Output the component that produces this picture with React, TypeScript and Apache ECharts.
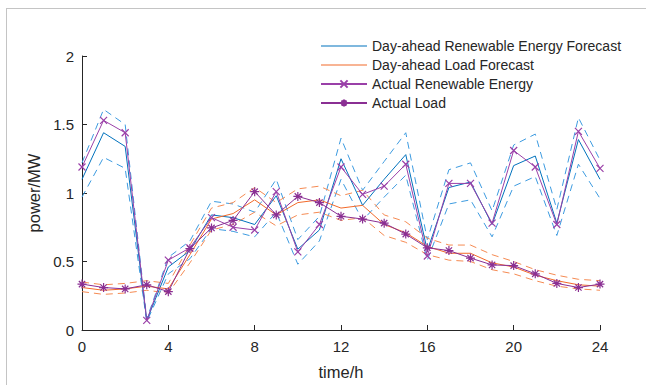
import React, { useEffect, useRef } from "react";
import * as echarts from "echarts";

const hours = [0, 1, 2, 3, 4, 5, 6, 7, 8, 9, 10, 11, 12, 13, 14, 15, 16, 17, 18, 19, 20, 21, 22, 23, 24];

const reForecast = [1.10, 1.44, 1.34, 0.07, 0.46, 0.58, 0.84, 0.82, 0.77, 0.98, 0.59, 0.73, 1.25, 0.91, 1.10, 1.28, 0.58, 1.04, 1.08, 0.77, 1.20, 1.27, 0.78, 1.39, 1.10];
const reUpper = [1.22, 1.61, 1.50, 0.08, 0.53, 0.65, 0.94, 0.92, 0.86, 1.10, 0.66, 0.83, 1.40, 1.02, 1.23, 1.44, 0.66, 1.17, 1.22, 0.87, 1.35, 1.43, 0.88, 1.55, 1.24];
const reLower = [0.97, 1.26, 1.18, 0.06, 0.41, 0.52, 0.74, 0.72, 0.68, 0.86, 0.48, 0.65, 1.10, 0.80, 0.97, 1.13, 0.51, 0.92, 0.95, 0.68, 1.05, 1.12, 0.69, 1.21, 0.96];

const loadForecast = [0.31, 0.29, 0.30, 0.32, 0.30, 0.55, 0.81, 0.85, 0.95, 0.84, 0.93, 0.95, 0.89, 0.91, 0.77, 0.71, 0.61, 0.56, 0.56, 0.49, 0.46, 0.40, 0.36, 0.33, 0.32];
const loadUpper = [0.35, 0.33, 0.34, 0.36, 0.34, 0.62, 0.89, 0.93, 1.04, 0.93, 1.03, 1.05, 0.98, 1.02, 0.84, 0.79, 0.67, 0.62, 0.62, 0.55, 0.50, 0.44, 0.40, 0.37, 0.36];
const loadLower = [0.28, 0.26, 0.27, 0.29, 0.27, 0.49, 0.73, 0.77, 0.86, 0.76, 0.84, 0.86, 0.80, 0.82, 0.69, 0.64, 0.55, 0.51, 0.50, 0.44, 0.41, 0.36, 0.32, 0.30, 0.29];

const reActual = [1.19, 1.53, 1.44, 0.07, 0.51, 0.60, 0.82, 0.75, 0.73, 1.01, 0.57, 0.77, 1.19, 0.99, 1.05, 1.21, 0.54, 1.07, 1.07, 0.78, 1.31, 1.19, 0.77, 1.45, 1.18];
const loadActual = [0.335, 0.31, 0.30, 0.33, 0.28, 0.595, 0.745, 0.80, 1.01, 0.84, 0.975, 0.93, 0.83, 0.81, 0.78, 0.70, 0.60, 0.58, 0.525, 0.475, 0.47, 0.41, 0.34, 0.31, 0.335];

const xTicks = [0, 4, 8, 12, 16, 20, 24];
const yTicks = [0, 0.5, 1, 1.5, 2];

const names = [
  "Day-ahead Renewable Energy Forecast",
  "Day-ahead Load Forecast",
  "Actual Renewable Energy",
  "Actual Load",
];

const pts = (arr: number[]) => hours.map((h, i) => [h, arr[i]]);

const BLUE = "#0072BD";
const BLUE_D = "#3d9be0";
const ORANGE = "#f26a2a";
const ORANGE_D = "#f58a52";
const PURPLE_X = "#9a40a8";
const PURPLE = "#8a2f93";
const TXT = "#262626";
const FONT = "Liberation Sans, Arial, sans-serif";

const X_SYMBOL = "path://M0,0L10,10M10,0L0,10";
const STAR_SYMBOL = "path://M5,0L5,10M0,5L10,5M1.5,1.5L8.5,8.5M8.5,1.5L1.5,8.5";
const LINE_ICON = "path://M0,0H46V1H0Z";

export default function App() {
  const ref = useRef<HTMLDivElement>(null);
  useEffect(() => {
    if (!ref.current) return;
    const chart = echarts.init(ref.current, null, { renderer: "svg" });
    const dashed = (name: string, arr: number[], color: string) => ({
      name,
      type: "line",
      data: pts(arr),
      symbol: "none",
      lineStyle: { color, width: 1, type: [7, 5] },
      z: 1,
    });
    chart.setOption({
      animation: false,
      backgroundColor: "#ffffff",
      textStyle: { fontFamily: FONT },
      graphic: [
        { type: "line", shape: { x1: 6, y1: 8.5, x2: 646, y2: 8.5 }, style: { stroke: "#c4c4c4", lineWidth: 1 } },
        { type: "line", shape: { x1: 6.5, y1: 8, x2: 6.5, y2: 385 }, style: { stroke: "#c4c4c4", lineWidth: 1 } },
      ],
      grid: { left: 82, right: 46, top: 56, bottom: 48, containLabel: false },
      legend: {
        data: [
          { name: names[0], icon: LINE_ICON },
          { name: names[1], icon: LINE_ICON },
          { name: names[2] },
          { name: names[3] },
        ],
        orient: "vertical",
        left: 315,
        top: 34,
        itemWidth: 46,
        itemHeight: 9,
        itemGap: 5,
        symbolKeepAspect: true,
        textStyle: { fontSize: 14, color: TXT, fontFamily: FONT },
      },
      xAxis: {
        type: "value",
        min: xTicks[0],
        max: xTicks[xTicks.length - 1],
        interval: 4,
        name: "time/h",
        nameLocation: "middle",
        nameGap: 33,
        nameTextStyle: { fontSize: 16.5, color: TXT, fontFamily: FONT },
        axisLine: { lineStyle: { color: TXT, width: 1 } },
        axisTick: { inside: true, length: 5, lineStyle: { color: TXT } },
        axisLabel: { fontSize: 15, color: TXT, margin: 9, fontFamily: FONT },
        splitLine: { show: false },
      },
      yAxis: {
        type: "value",
        min: yTicks[0],
        max: yTicks[yTicks.length - 1],
        interval: 0.5,
        name: "power/MW",
        nameLocation: "middle",
        nameGap: 27,
        nameTextStyle: { fontSize: 16.5, color: TXT, fontFamily: FONT },
        axisLine: { show: true, lineStyle: { color: TXT, width: 1 } },
        axisTick: { show: true, inside: true, length: 5, lineStyle: { color: TXT } },
        axisLabel: { fontSize: 15, color: TXT, margin: 8, fontFamily: FONT, formatter: (v: number) => String(v) },
        splitLine: { show: false },
      },
      series: [
        dashed("reUpper", reUpper, BLUE_D),
        dashed("reLower", reLower, BLUE_D),
        dashed("loadUpper", loadUpper, ORANGE_D),
        dashed("loadLower", loadLower, ORANGE_D),
        {
          name: names[0],
          type: "line",
          data: pts(reForecast),
          symbol: "none",
          lineStyle: { color: BLUE, width: 1 },
          itemStyle: { color: BLUE },
          z: 2,
        },
        {
          name: names[1],
          type: "line",
          data: pts(loadForecast),
          symbol: "none",
          lineStyle: { color: ORANGE, width: 1 },
          itemStyle: { color: ORANGE },
          z: 2,
        },
        {
          name: names[2],
          type: "line",
          data: pts(reActual),
          symbol: X_SYMBOL,
          symbolSize: 7,
          showAllSymbol: true,
          lineStyle: { color: PURPLE_X, width: 1 },
          itemStyle: { color: "none", borderColor: PURPLE_X, borderWidth: 1.2 },
          z: 3,
        },
        {
          name: names[3],
          type: "line",
          data: pts(loadActual),
          symbol: STAR_SYMBOL,
          symbolSize: 9,
          showAllSymbol: true,
          lineStyle: { color: PURPLE, width: 1 },
          itemStyle: { color: "none", borderColor: PURPLE, borderWidth: 1.2 },
          z: 3,
        },
      ],
    });
    return () => chart.dispose();
  }, []);
  return (
    <div
      ref={ref}
      style={{ position: "fixed", left: 0, top: 0, width: 646, height: 385, background: "#fff" }}
    />
  );
}
